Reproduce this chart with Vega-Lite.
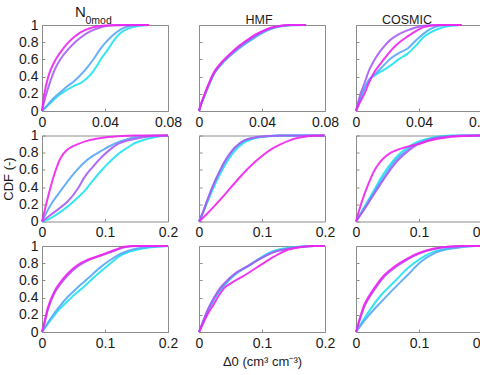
{
  "$schema": "https://vega.github.io/schema/vega-lite/v6.json",
  "padding": {"left": 2, "top": 4, "right": 0, "bottom": 0},
  "columns": 3,
  "spacing": {"row": 24.5, "column": 31},
  "bounds": "flush",
  "data": {"values": [
    {"panel":"A1","series":1,"x":0,"cdf":0},{"panel":"A1","series":1,"x":0.004,"cdf":0.07},{"panel":"A1","series":1,"x":0.008,"cdf":0.14},{"panel":"A1","series":1,"x":0.012,"cdf":0.2},{"panel":"A1","series":1,"x":0.0163,"cdf":0.25},{"panel":"A1","series":1,"x":0.02,"cdf":0.29},{"panel":"A1","series":1,"x":0.025,"cdf":0.33},{"panel":"A1","series":1,"x":0.0285,"cdf":0.38},{"panel":"A1","series":1,"x":0.032,"cdf":0.45},{"panel":"A1","series":1,"x":0.035,"cdf":0.53},{"panel":"A1","series":1,"x":0.038,"cdf":0.62},{"panel":"A1","series":1,"x":0.042,"cdf":0.72},{"panel":"A1","series":1,"x":0.046,"cdf":0.83},{"panel":"A1","series":1,"x":0.05,"cdf":0.91},{"panel":"A1","series":1,"x":0.055,"cdf":0.96},{"panel":"A1","series":1,"x":0.06,"cdf":0.985},{"panel":"A1","series":1,"x":0.065,"cdf":0.997},{"panel":"A1","series":1,"x":0.068,"cdf":1},
    {"panel":"A1","series":2,"x":0,"cdf":0},{"panel":"A1","series":2,"x":0.004,"cdf":0.08},{"panel":"A1","series":2,"x":0.008,"cdf":0.16},{"panel":"A1","series":2,"x":0.0125,"cdf":0.23},{"panel":"A1","series":2,"x":0.0163,"cdf":0.29},{"panel":"A1","series":2,"x":0.02,"cdf":0.34},{"panel":"A1","series":2,"x":0.024,"cdf":0.41},{"panel":"A1","series":2,"x":0.028,"cdf":0.49},{"panel":"A1","series":2,"x":0.033,"cdf":0.61},{"panel":"A1","series":2,"x":0.037,"cdf":0.72},{"panel":"A1","series":2,"x":0.0406,"cdf":0.8},{"panel":"A1","series":2,"x":0.045,"cdf":0.88},{"panel":"A1","series":2,"x":0.05,"cdf":0.95},{"panel":"A1","series":2,"x":0.055,"cdf":0.985},{"panel":"A1","series":2,"x":0.06,"cdf":0.997},{"panel":"A1","series":2,"x":0.068,"cdf":1},
    {"panel":"A1","series":3,"x":0,"cdf":0},{"panel":"A1","series":3,"x":0.002,"cdf":0.15},{"panel":"A1","series":3,"x":0.005,"cdf":0.33},{"panel":"A1","series":3,"x":0.0078,"cdf":0.47},{"panel":"A1","series":3,"x":0.012,"cdf":0.61},{"panel":"A1","series":3,"x":0.0163,"cdf":0.71},{"panel":"A1","series":3,"x":0.021,"cdf":0.8},{"panel":"A1","series":3,"x":0.025,"cdf":0.86},{"panel":"A1","series":3,"x":0.03,"cdf":0.92},{"panel":"A1","series":3,"x":0.036,"cdf":0.965},{"panel":"A1","series":3,"x":0.042,"cdf":0.99},{"panel":"A1","series":3,"x":0.05,"cdf":1},{"panel":"A1","series":3,"x":0.068,"cdf":1},
    {"panel":"A1","series":4,"x":0,"cdf":0},{"panel":"A1","series":4,"x":0.0015,"cdf":0.2},{"panel":"A1","series":4,"x":0.004,"cdf":0.4},{"panel":"A1","series":4,"x":0.0078,"cdf":0.57},{"panel":"A1","series":4,"x":0.012,"cdf":0.69},{"panel":"A1","series":4,"x":0.0163,"cdf":0.79},{"panel":"A1","series":4,"x":0.021,"cdf":0.87},{"panel":"A1","series":4,"x":0.025,"cdf":0.92},{"panel":"A1","series":4,"x":0.03,"cdf":0.96},{"panel":"A1","series":4,"x":0.036,"cdf":0.985},{"panel":"A1","series":4,"x":0.044,"cdf":0.998},{"panel":"A1","series":4,"x":0.068,"cdf":1},

    {"panel":"B1","series":1,"x":0,"cdf":0},{"panel":"B1","series":1,"x":0.0015,"cdf":0.085},{"panel":"B1","series":1,"x":0.0032,"cdf":0.16},{"panel":"B1","series":1,"x":0.006,"cdf":0.29},{"panel":"B1","series":1,"x":0.0095,"cdf":0.43},{"panel":"B1","series":1,"x":0.014,"cdf":0.54},{"panel":"B1","series":1,"x":0.02,"cdf":0.65},{"panel":"B1","series":1,"x":0.025,"cdf":0.73},{"panel":"B1","series":1,"x":0.031,"cdf":0.81},{"panel":"B1","series":1,"x":0.036,"cdf":0.87},{"panel":"B1","series":1,"x":0.041,"cdf":0.92},{"panel":"B1","series":1,"x":0.046,"cdf":0.96},{"panel":"B1","series":1,"x":0.052,"cdf":0.985},{"panel":"B1","series":1,"x":0.058,"cdf":0.998},{"panel":"B1","series":1,"x":0.068,"cdf":1},
    {"panel":"B1","series":2,"x":0,"cdf":0},{"panel":"B1","series":2,"x":0.0015,"cdf":0.085},{"panel":"B1","series":2,"x":0.0032,"cdf":0.165},{"panel":"B1","series":2,"x":0.006,"cdf":0.29},{"panel":"B1","series":2,"x":0.0095,"cdf":0.43},{"panel":"B1","series":2,"x":0.014,"cdf":0.54},{"panel":"B1","series":2,"x":0.02,"cdf":0.645},{"panel":"B1","series":2,"x":0.025,"cdf":0.72},{"panel":"B1","series":2,"x":0.031,"cdf":0.8},{"panel":"B1","series":2,"x":0.036,"cdf":0.86},{"panel":"B1","series":2,"x":0.041,"cdf":0.915},{"panel":"B1","series":2,"x":0.046,"cdf":0.955},{"panel":"B1","series":2,"x":0.052,"cdf":0.985},{"panel":"B1","series":2,"x":0.058,"cdf":0.998},{"panel":"B1","series":2,"x":0.068,"cdf":1},
    {"panel":"B1","series":3,"x":0,"cdf":0},{"panel":"B1","series":3,"x":0.0015,"cdf":0.09},{"panel":"B1","series":3,"x":0.0032,"cdf":0.17},{"panel":"B1","series":3,"x":0.006,"cdf":0.3},{"panel":"B1","series":3,"x":0.0095,"cdf":0.44},{"panel":"B1","series":3,"x":0.014,"cdf":0.55},{"panel":"B1","series":3,"x":0.02,"cdf":0.66},{"panel":"B1","series":3,"x":0.025,"cdf":0.74},{"panel":"B1","series":3,"x":0.031,"cdf":0.82},{"panel":"B1","series":3,"x":0.036,"cdf":0.88},{"panel":"B1","series":3,"x":0.041,"cdf":0.93},{"panel":"B1","series":3,"x":0.046,"cdf":0.965},{"panel":"B1","series":3,"x":0.052,"cdf":0.99},{"panel":"B1","series":3,"x":0.058,"cdf":1},{"panel":"B1","series":3,"x":0.068,"cdf":1},
    {"panel":"B1","series":4,"x":0,"cdf":0},{"panel":"B1","series":4,"x":0.0015,"cdf":0.095},{"panel":"B1","series":4,"x":0.0032,"cdf":0.18},{"panel":"B1","series":4,"x":0.006,"cdf":0.31},{"panel":"B1","series":4,"x":0.0095,"cdf":0.45},{"panel":"B1","series":4,"x":0.014,"cdf":0.56},{"panel":"B1","series":4,"x":0.02,"cdf":0.67},{"panel":"B1","series":4,"x":0.025,"cdf":0.75},{"panel":"B1","series":4,"x":0.031,"cdf":0.83},{"panel":"B1","series":4,"x":0.036,"cdf":0.89},{"panel":"B1","series":4,"x":0.041,"cdf":0.935},{"panel":"B1","series":4,"x":0.046,"cdf":0.97},{"panel":"B1","series":4,"x":0.052,"cdf":0.992},{"panel":"B1","series":4,"x":0.058,"cdf":1},{"panel":"B1","series":4,"x":0.068,"cdf":1},

    {"panel":"C1","series":1,"x":0,"cdf":0},{"panel":"C1","series":1,"x":0.0025,"cdf":0.13},{"panel":"C1","series":1,"x":0.0053,"cdf":0.26},{"panel":"C1","series":1,"x":0.0085,"cdf":0.36},{"panel":"C1","series":1,"x":0.0116,"cdf":0.41},{"panel":"C1","series":1,"x":0.016,"cdf":0.46},{"panel":"C1","series":1,"x":0.022,"cdf":0.53},{"panel":"C1","series":1,"x":0.027,"cdf":0.6},{"panel":"C1","series":1,"x":0.033,"cdf":0.67},{"panel":"C1","series":1,"x":0.038,"cdf":0.76},{"panel":"C1","series":1,"x":0.043,"cdf":0.86},{"panel":"C1","series":1,"x":0.048,"cdf":0.92},{"panel":"C1","series":1,"x":0.053,"cdf":0.96},{"panel":"C1","series":1,"x":0.058,"cdf":0.985},{"panel":"C1","series":1,"x":0.067,"cdf":1},
    {"panel":"C1","series":2,"x":0,"cdf":0},{"panel":"C1","series":2,"x":0.0025,"cdf":0.13},{"panel":"C1","series":2,"x":0.0053,"cdf":0.26},{"panel":"C1","series":2,"x":0.0085,"cdf":0.37},{"panel":"C1","series":2,"x":0.0116,"cdf":0.42},{"panel":"C1","series":2,"x":0.016,"cdf":0.5},{"panel":"C1","series":2,"x":0.022,"cdf":0.61},{"panel":"C1","series":2,"x":0.027,"cdf":0.67},{"panel":"C1","series":2,"x":0.033,"cdf":0.73},{"panel":"C1","series":2,"x":0.038,"cdf":0.82},{"panel":"C1","series":2,"x":0.043,"cdf":0.9},{"panel":"C1","series":2,"x":0.048,"cdf":0.96},{"panel":"C1","series":2,"x":0.053,"cdf":0.99},{"panel":"C1","series":2,"x":0.058,"cdf":0.998},{"panel":"C1","series":2,"x":0.067,"cdf":1},
    {"panel":"C1","series":3,"x":0,"cdf":0},{"panel":"C1","series":3,"x":0.0025,"cdf":0.18},{"panel":"C1","series":3,"x":0.0053,"cdf":0.32},{"panel":"C1","series":3,"x":0.0085,"cdf":0.48},{"panel":"C1","series":3,"x":0.0116,"cdf":0.59},{"panel":"C1","series":3,"x":0.016,"cdf":0.71},{"panel":"C1","series":3,"x":0.022,"cdf":0.83},{"panel":"C1","series":3,"x":0.027,"cdf":0.89},{"panel":"C1","series":3,"x":0.033,"cdf":0.94},{"panel":"C1","series":3,"x":0.038,"cdf":0.97},{"panel":"C1","series":3,"x":0.043,"cdf":0.99},{"panel":"C1","series":3,"x":0.048,"cdf":0.997},{"panel":"C1","series":3,"x":0.053,"cdf":1},{"panel":"C1","series":3,"x":0.067,"cdf":1},
    {"panel":"C1","series":4,"x":0,"cdf":0},{"panel":"C1","series":4,"x":0.0025,"cdf":0.1},{"panel":"C1","series":4,"x":0.0053,"cdf":0.2},{"panel":"C1","series":4,"x":0.0085,"cdf":0.34},{"panel":"C1","series":4,"x":0.0116,"cdf":0.45},{"panel":"C1","series":4,"x":0.016,"cdf":0.56},{"panel":"C1","series":4,"x":0.022,"cdf":0.7},{"panel":"C1","series":4,"x":0.027,"cdf":0.79},{"panel":"C1","series":4,"x":0.033,"cdf":0.87},{"panel":"C1","series":4,"x":0.038,"cdf":0.93},{"panel":"C1","series":4,"x":0.043,"cdf":0.975},{"panel":"C1","series":4,"x":0.048,"cdf":0.995},{"panel":"C1","series":4,"x":0.053,"cdf":1},{"panel":"C1","series":4,"x":0.067,"cdf":1},

    {"panel":"A2","series":1,"x":0,"cdf":0},{"panel":"A2","series":1,"x":0.014,"cdf":0.04},{"panel":"A2","series":1,"x":0.027,"cdf":0.1},{"panel":"A2","series":1,"x":0.041,"cdf":0.176},{"panel":"A2","series":1,"x":0.054,"cdf":0.26},{"panel":"A2","series":1,"x":0.067,"cdf":0.35},{"panel":"A2","series":1,"x":0.08,"cdf":0.47},{"panel":"A2","series":1,"x":0.094,"cdf":0.59},{"panel":"A2","series":1,"x":0.107,"cdf":0.69},{"panel":"A2","series":1,"x":0.12,"cdf":0.78},{"panel":"A2","series":1,"x":0.135,"cdf":0.855},{"panel":"A2","series":1,"x":0.147,"cdf":0.91},{"panel":"A2","series":1,"x":0.16,"cdf":0.945},{"panel":"A2","series":1,"x":0.173,"cdf":0.97},{"panel":"A2","series":1,"x":0.187,"cdf":0.99},{"panel":"A2","series":1,"x":0.2,"cdf":1},
    {"panel":"A2","series":2,"x":0,"cdf":0},{"panel":"A2","series":2,"x":0.014,"cdf":0.196},{"panel":"A2","series":2,"x":0.027,"cdf":0.33},{"panel":"A2","series":2,"x":0.041,"cdf":0.47},{"panel":"A2","series":2,"x":0.054,"cdf":0.585},{"panel":"A2","series":2,"x":0.067,"cdf":0.686},{"panel":"A2","series":2,"x":0.08,"cdf":0.76},{"panel":"A2","series":2,"x":0.094,"cdf":0.82},{"panel":"A2","series":2,"x":0.107,"cdf":0.875},{"panel":"A2","series":2,"x":0.12,"cdf":0.92},{"panel":"A2","series":2,"x":0.135,"cdf":0.955},{"panel":"A2","series":2,"x":0.147,"cdf":0.98},{"panel":"A2","series":2,"x":0.165,"cdf":0.995},{"panel":"A2","series":2,"x":0.18,"cdf":1},{"panel":"A2","series":2,"x":0.2,"cdf":1},
    {"panel":"A2","series":3,"x":0,"cdf":0},{"panel":"A2","series":3,"x":0.014,"cdf":0.078},{"panel":"A2","series":3,"x":0.027,"cdf":0.15},{"panel":"A2","series":3,"x":0.041,"cdf":0.235},{"panel":"A2","series":3,"x":0.0575,"cdf":0.39},{"panel":"A2","series":3,"x":0.067,"cdf":0.51},{"panel":"A2","series":3,"x":0.08,"cdf":0.63},{"panel":"A2","series":3,"x":0.094,"cdf":0.745},{"panel":"A2","series":3,"x":0.107,"cdf":0.83},{"panel":"A2","series":3,"x":0.12,"cdf":0.9},{"panel":"A2","series":3,"x":0.135,"cdf":0.94},{"panel":"A2","series":3,"x":0.147,"cdf":0.96},{"panel":"A2","series":3,"x":0.173,"cdf":0.99},{"panel":"A2","series":3,"x":0.2,"cdf":1},
    {"panel":"A2","series":4,"x":0,"cdf":0},{"panel":"A2","series":4,"x":0.004,"cdf":0.12},{"panel":"A2","series":4,"x":0.009,"cdf":0.27},{"panel":"A2","series":4,"x":0.0196,"cdf":0.55},{"panel":"A2","series":4,"x":0.03,"cdf":0.745},{"panel":"A2","series":4,"x":0.041,"cdf":0.84},{"panel":"A2","series":4,"x":0.057,"cdf":0.9},{"panel":"A2","series":4,"x":0.0725,"cdf":0.94},{"panel":"A2","series":4,"x":0.094,"cdf":0.97},{"panel":"A2","series":4,"x":0.12,"cdf":0.99},{"panel":"A2","series":4,"x":0.147,"cdf":1},{"panel":"A2","series":4,"x":0.2,"cdf":1},

    {"panel":"B2","series":1,"x":0,"cdf":0},{"panel":"B2","series":1,"x":0.006,"cdf":0.095},{"panel":"B2","series":1,"x":0.013,"cdf":0.22},{"panel":"B2","series":1,"x":0.024,"cdf":0.41},{"panel":"B2","series":1,"x":0.032,"cdf":0.53},{"panel":"B2","series":1,"x":0.04,"cdf":0.64},{"panel":"B2","series":1,"x":0.048,"cdf":0.735},{"panel":"B2","series":1,"x":0.056,"cdf":0.815},{"panel":"B2","series":1,"x":0.063,"cdf":0.87},{"panel":"B2","series":1,"x":0.071,"cdf":0.915},{"panel":"B2","series":1,"x":0.087,"cdf":0.965},{"panel":"B2","series":1,"x":0.109,"cdf":0.99},{"panel":"B2","series":1,"x":0.13,"cdf":1},{"panel":"B2","series":1,"x":0.2,"cdf":1},
    {"panel":"B2","series":2,"x":0,"cdf":0},{"panel":"B2","series":2,"x":0.006,"cdf":0.1},{"panel":"B2","series":2,"x":0.013,"cdf":0.24},{"panel":"B2","series":2,"x":0.024,"cdf":0.44},{"panel":"B2","series":2,"x":0.032,"cdf":0.56},{"panel":"B2","series":2,"x":0.04,"cdf":0.675},{"panel":"B2","series":2,"x":0.048,"cdf":0.77},{"panel":"B2","series":2,"x":0.056,"cdf":0.845},{"panel":"B2","series":2,"x":0.063,"cdf":0.895},{"panel":"B2","series":2,"x":0.071,"cdf":0.935},{"panel":"B2","series":2,"x":0.087,"cdf":0.972},{"panel":"B2","series":2,"x":0.109,"cdf":0.992},{"panel":"B2","series":2,"x":0.13,"cdf":1},{"panel":"B2","series":2,"x":0.2,"cdf":1},
    {"panel":"B2","series":3,"x":0,"cdf":0},{"panel":"B2","series":3,"x":0.006,"cdf":0.105},{"panel":"B2","series":3,"x":0.013,"cdf":0.245},{"panel":"B2","series":3,"x":0.024,"cdf":0.45},{"panel":"B2","series":3,"x":0.032,"cdf":0.575},{"panel":"B2","series":3,"x":0.04,"cdf":0.69},{"panel":"B2","series":3,"x":0.048,"cdf":0.78},{"panel":"B2","series":3,"x":0.056,"cdf":0.855},{"panel":"B2","series":3,"x":0.063,"cdf":0.9},{"panel":"B2","series":3,"x":0.071,"cdf":0.94},{"panel":"B2","series":3,"x":0.087,"cdf":0.975},{"panel":"B2","series":3,"x":0.109,"cdf":0.993},{"panel":"B2","series":3,"x":0.13,"cdf":1},{"panel":"B2","series":3,"x":0.2,"cdf":1},
    {"panel":"B2","series":4,"x":0,"cdf":0},{"panel":"B2","series":4,"x":0.012,"cdf":0.085},{"panel":"B2","series":4,"x":0.024,"cdf":0.176},{"panel":"B2","series":4,"x":0.037,"cdf":0.28},{"panel":"B2","series":4,"x":0.05,"cdf":0.39},{"panel":"B2","series":4,"x":0.063,"cdf":0.5},{"panel":"B2","series":4,"x":0.077,"cdf":0.61},{"panel":"B2","series":4,"x":0.09,"cdf":0.7},{"panel":"B2","series":4,"x":0.103,"cdf":0.78},{"panel":"B2","series":4,"x":0.117,"cdf":0.85},{"panel":"B2","series":4,"x":0.13,"cdf":0.9},{"panel":"B2","series":4,"x":0.143,"cdf":0.94},{"panel":"B2","series":4,"x":0.156,"cdf":0.97},{"panel":"B2","series":4,"x":0.17,"cdf":0.988},{"panel":"B2","series":4,"x":0.183,"cdf":0.996},{"panel":"B2","series":4,"x":0.198,"cdf":1},

    {"panel":"C2","series":1,"x":0,"cdf":0},{"panel":"C2","series":1,"x":0.0185,"cdf":0.235},{"panel":"C2","series":1,"x":0.03,"cdf":0.38},{"panel":"C2","series":1,"x":0.04,"cdf":0.51},{"panel":"C2","series":1,"x":0.05,"cdf":0.62},{"panel":"C2","series":1,"x":0.061,"cdf":0.725},{"panel":"C2","series":1,"x":0.071,"cdf":0.8},{"panel":"C2","series":1,"x":0.082,"cdf":0.86},{"panel":"C2","series":1,"x":0.092,"cdf":0.905},{"panel":"C2","series":1,"x":0.103,"cdf":0.94},{"panel":"C2","series":1,"x":0.124,"cdf":0.98},{"panel":"C2","series":1,"x":0.151,"cdf":1},{"panel":"C2","series":1,"x":0.2,"cdf":1},
    {"panel":"C2","series":2,"x":0,"cdf":0},{"panel":"C2","series":2,"x":0.0185,"cdf":0.215},{"panel":"C2","series":2,"x":0.03,"cdf":0.355},{"panel":"C2","series":2,"x":0.04,"cdf":0.47},{"panel":"C2","series":2,"x":0.05,"cdf":0.58},{"panel":"C2","series":2,"x":0.061,"cdf":0.695},{"panel":"C2","series":2,"x":0.071,"cdf":0.77},{"panel":"C2","series":2,"x":0.082,"cdf":0.835},{"panel":"C2","series":2,"x":0.092,"cdf":0.885},{"panel":"C2","series":2,"x":0.103,"cdf":0.925},{"panel":"C2","series":2,"x":0.124,"cdf":0.972},{"panel":"C2","series":2,"x":0.151,"cdf":0.995},{"panel":"C2","series":2,"x":0.17,"cdf":1},{"panel":"C2","series":2,"x":0.2,"cdf":1},
    {"panel":"C2","series":3,"x":0,"cdf":0},{"panel":"C2","series":3,"x":0.0185,"cdf":0.2},{"panel":"C2","series":3,"x":0.03,"cdf":0.335},{"panel":"C2","series":3,"x":0.04,"cdf":0.445},{"panel":"C2","series":3,"x":0.05,"cdf":0.555},{"panel":"C2","series":3,"x":0.061,"cdf":0.665},{"panel":"C2","series":3,"x":0.071,"cdf":0.745},{"panel":"C2","series":3,"x":0.082,"cdf":0.815},{"panel":"C2","series":3,"x":0.092,"cdf":0.87},{"panel":"C2","series":3,"x":0.103,"cdf":0.91},{"panel":"C2","series":3,"x":0.124,"cdf":0.965},{"panel":"C2","series":3,"x":0.151,"cdf":0.99},{"panel":"C2","series":3,"x":0.175,"cdf":1},{"panel":"C2","series":3,"x":0.2,"cdf":1},
    {"panel":"C2","series":4,"x":0,"cdf":0},{"panel":"C2","series":4,"x":0.005,"cdf":0.13},{"panel":"C2","series":4,"x":0.013,"cdf":0.31},{"panel":"C2","series":4,"x":0.021,"cdf":0.46},{"panel":"C2","series":4,"x":0.029,"cdf":0.59},{"panel":"C2","series":4,"x":0.037,"cdf":0.68},{"panel":"C2","series":4,"x":0.045,"cdf":0.745},{"panel":"C2","series":4,"x":0.053,"cdf":0.79},{"panel":"C2","series":4,"x":0.061,"cdf":0.82},{"panel":"C2","series":4,"x":0.077,"cdf":0.86},{"panel":"C2","series":4,"x":0.098,"cdf":0.9},{"panel":"C2","series":4,"x":0.119,"cdf":0.945},{"panel":"C2","series":4,"x":0.146,"cdf":0.98},{"panel":"C2","series":4,"x":0.177,"cdf":0.995},{"panel":"C2","series":4,"x":0.2,"cdf":1},

    {"panel":"A3","series":1,"x":0,"cdf":0},{"panel":"A3","series":1,"x":0.014,"cdf":0.14},{"panel":"A3","series":1,"x":0.027,"cdf":0.26},{"panel":"A3","series":1,"x":0.041,"cdf":0.36},{"panel":"A3","series":1,"x":0.054,"cdf":0.45},{"panel":"A3","series":1,"x":0.067,"cdf":0.53},{"panel":"A3","series":1,"x":0.08,"cdf":0.62},{"panel":"A3","series":1,"x":0.094,"cdf":0.71},{"panel":"A3","series":1,"x":0.109,"cdf":0.8},{"panel":"A3","series":1,"x":0.125,"cdf":0.89},{"panel":"A3","series":1,"x":0.147,"cdf":0.95},{"panel":"A3","series":1,"x":0.173,"cdf":0.985},{"panel":"A3","series":1,"x":0.2,"cdf":1},
    {"panel":"A3","series":2,"x":0,"cdf":0},{"panel":"A3","series":2,"x":0.014,"cdf":0.16},{"panel":"A3","series":2,"x":0.027,"cdf":0.29},{"panel":"A3","series":2,"x":0.041,"cdf":0.41},{"panel":"A3","series":2,"x":0.054,"cdf":0.5},{"panel":"A3","series":2,"x":0.067,"cdf":0.585},{"panel":"A3","series":2,"x":0.08,"cdf":0.67},{"panel":"A3","series":2,"x":0.094,"cdf":0.76},{"panel":"A3","series":2,"x":0.109,"cdf":0.84},{"panel":"A3","series":2,"x":0.125,"cdf":0.91},{"panel":"A3","series":2,"x":0.147,"cdf":0.965},{"panel":"A3","series":2,"x":0.173,"cdf":0.99},{"panel":"A3","series":2,"x":0.2,"cdf":1},
    {"panel":"A3","series":3,"x":0,"cdf":0},{"panel":"A3","series":3,"x":0.004,"cdf":0.1},{"panel":"A3","series":3,"x":0.009,"cdf":0.25},{"panel":"A3","series":3,"x":0.0196,"cdf":0.45},{"panel":"A3","series":3,"x":0.03,"cdf":0.565},{"panel":"A3","series":3,"x":0.041,"cdf":0.66},{"panel":"A3","series":3,"x":0.057,"cdf":0.765},{"panel":"A3","series":3,"x":0.0725,"cdf":0.83},{"panel":"A3","series":3,"x":0.094,"cdf":0.89},{"panel":"A3","series":3,"x":0.115,"cdf":0.945},{"panel":"A3","series":3,"x":0.131,"cdf":0.985},{"panel":"A3","series":3,"x":0.15,"cdf":1},{"panel":"A3","series":3,"x":0.2,"cdf":1},
    {"panel":"A3","series":4,"x":0,"cdf":0},{"panel":"A3","series":4,"x":0.004,"cdf":0.12},{"panel":"A3","series":4,"x":0.009,"cdf":0.275},{"panel":"A3","series":4,"x":0.0196,"cdf":0.47},{"panel":"A3","series":4,"x":0.03,"cdf":0.585},{"panel":"A3","series":4,"x":0.041,"cdf":0.68},{"panel":"A3","series":4,"x":0.057,"cdf":0.78},{"panel":"A3","series":4,"x":0.0725,"cdf":0.84},{"panel":"A3","series":4,"x":0.094,"cdf":0.895},{"panel":"A3","series":4,"x":0.115,"cdf":0.953},{"panel":"A3","series":4,"x":0.131,"cdf":0.99},{"panel":"A3","series":4,"x":0.147,"cdf":1},{"panel":"A3","series":4,"x":0.2,"cdf":1},

    {"panel":"B3","series":1,"x":0,"cdf":0},{"panel":"B3","series":1,"x":0.006,"cdf":0.105},{"panel":"B3","series":1,"x":0.013,"cdf":0.225},{"panel":"B3","series":1,"x":0.024,"cdf":0.38},{"panel":"B3","series":1,"x":0.032,"cdf":0.47},{"panel":"B3","series":1,"x":0.04,"cdf":0.54},{"panel":"B3","series":1,"x":0.056,"cdf":0.66},{"panel":"B3","series":1,"x":0.077,"cdf":0.765},{"panel":"B3","series":1,"x":0.098,"cdf":0.865},{"panel":"B3","series":1,"x":0.119,"cdf":0.945},{"panel":"B3","series":1,"x":0.14,"cdf":0.978},{"panel":"B3","series":1,"x":0.161,"cdf":0.993},{"panel":"B3","series":1,"x":0.182,"cdf":1},{"panel":"B3","series":1,"x":0.2,"cdf":1},
    {"panel":"B3","series":2,"x":0,"cdf":0},{"panel":"B3","series":2,"x":0.006,"cdf":0.11},{"panel":"B3","series":2,"x":0.013,"cdf":0.235},{"panel":"B3","series":2,"x":0.024,"cdf":0.39},{"panel":"B3","series":2,"x":0.032,"cdf":0.48},{"panel":"B3","series":2,"x":0.04,"cdf":0.55},{"panel":"B3","series":2,"x":0.056,"cdf":0.665},{"panel":"B3","series":2,"x":0.077,"cdf":0.76},{"panel":"B3","series":2,"x":0.098,"cdf":0.855},{"panel":"B3","series":2,"x":0.119,"cdf":0.932},{"panel":"B3","series":2,"x":0.14,"cdf":0.968},{"panel":"B3","series":2,"x":0.161,"cdf":0.99},{"panel":"B3","series":2,"x":0.182,"cdf":1},{"panel":"B3","series":2,"x":0.2,"cdf":1},
    {"panel":"B3","series":3,"x":0,"cdf":0},{"panel":"B3","series":3,"x":0.006,"cdf":0.115},{"panel":"B3","series":3,"x":0.013,"cdf":0.245},{"panel":"B3","series":3,"x":0.024,"cdf":0.4},{"panel":"B3","series":3,"x":0.032,"cdf":0.495},{"panel":"B3","series":3,"x":0.04,"cdf":0.565},{"panel":"B3","series":3,"x":0.056,"cdf":0.675},{"panel":"B3","series":3,"x":0.077,"cdf":0.765},{"panel":"B3","series":3,"x":0.098,"cdf":0.855},{"panel":"B3","series":3,"x":0.119,"cdf":0.93},{"panel":"B3","series":3,"x":0.14,"cdf":0.966},{"panel":"B3","series":3,"x":0.161,"cdf":0.988},{"panel":"B3","series":3,"x":0.182,"cdf":1},{"panel":"B3","series":3,"x":0.2,"cdf":1},
    {"panel":"B3","series":4,"x":0,"cdf":0},{"panel":"B3","series":4,"x":0.006,"cdf":0.09},{"panel":"B3","series":4,"x":0.013,"cdf":0.198},{"panel":"B3","series":4,"x":0.024,"cdf":0.33},{"panel":"B3","series":4,"x":0.032,"cdf":0.43},{"panel":"B3","series":4,"x":0.04,"cdf":0.51},{"panel":"B3","series":4,"x":0.0505,"cdf":0.566},{"panel":"B3","series":4,"x":0.063,"cdf":0.62},{"panel":"B3","series":4,"x":0.077,"cdf":0.68},{"panel":"B3","series":4,"x":0.098,"cdf":0.78},{"panel":"B3","series":4,"x":0.119,"cdf":0.876},{"panel":"B3","series":4,"x":0.14,"cdf":0.953},{"panel":"B3","series":4,"x":0.161,"cdf":0.985},{"panel":"B3","series":4,"x":0.182,"cdf":1},{"panel":"B3","series":4,"x":0.2,"cdf":1},

    {"panel":"C3","series":1,"x":0,"cdf":0},{"panel":"C3","series":1,"x":0.0185,"cdf":0.217},{"panel":"C3","series":1,"x":0.04,"cdf":0.43},{"panel":"C3","series":1,"x":0.061,"cdf":0.585},{"panel":"C3","series":1,"x":0.082,"cdf":0.74},{"panel":"C3","series":1,"x":0.103,"cdf":0.857},{"panel":"C3","series":1,"x":0.124,"cdf":0.934},{"panel":"C3","series":1,"x":0.146,"cdf":0.97},{"panel":"C3","series":1,"x":0.167,"cdf":0.99},{"panel":"C3","series":1,"x":0.188,"cdf":1},{"panel":"C3","series":1,"x":0.2,"cdf":1},
    {"panel":"C3","series":2,"x":0,"cdf":0},{"panel":"C3","series":2,"x":0.0185,"cdf":0.178},{"panel":"C3","series":2,"x":0.04,"cdf":0.35},{"panel":"C3","series":2,"x":0.061,"cdf":0.51},{"panel":"C3","series":2,"x":0.082,"cdf":0.663},{"panel":"C3","series":2,"x":0.103,"cdf":0.817},{"panel":"C3","series":2,"x":0.124,"cdf":0.915},{"panel":"C3","series":2,"x":0.146,"cdf":0.965},{"panel":"C3","series":2,"x":0.167,"cdf":0.985},{"panel":"C3","series":2,"x":0.188,"cdf":1},{"panel":"C3","series":2,"x":0.2,"cdf":1},
    {"panel":"C3","series":3,"x":0,"cdf":0},{"panel":"C3","series":3,"x":0.005,"cdf":0.12},{"panel":"C3","series":3,"x":0.013,"cdf":0.29},{"panel":"C3","series":3,"x":0.021,"cdf":0.4},{"panel":"C3","series":3,"x":0.029,"cdf":0.49},{"panel":"C3","series":3,"x":0.045,"cdf":0.645},{"panel":"C3","series":3,"x":0.061,"cdf":0.745},{"panel":"C3","series":3,"x":0.082,"cdf":0.845},{"panel":"C3","series":3,"x":0.103,"cdf":0.92},{"panel":"C3","series":3,"x":0.124,"cdf":0.965},{"panel":"C3","series":3,"x":0.146,"cdf":0.99},{"panel":"C3","series":3,"x":0.17,"cdf":1},{"panel":"C3","series":3,"x":0.2,"cdf":1},
    {"panel":"C3","series":4,"x":0,"cdf":0},{"panel":"C3","series":4,"x":0.005,"cdf":0.13},{"panel":"C3","series":4,"x":0.013,"cdf":0.314},{"panel":"C3","series":4,"x":0.021,"cdf":0.42},{"panel":"C3","series":4,"x":0.029,"cdf":0.51},{"panel":"C3","series":4,"x":0.045,"cdf":0.663},{"panel":"C3","series":4,"x":0.061,"cdf":0.76},{"panel":"C3","series":4,"x":0.082,"cdf":0.857},{"panel":"C3","series":4,"x":0.103,"cdf":0.927},{"panel":"C3","series":4,"x":0.124,"cdf":0.97},{"panel":"C3","series":4,"x":0.146,"cdf":0.99},{"panel":"C3","series":4,"x":0.167,"cdf":1},{"panel":"C3","series":4,"x":0.2,"cdf":1}
  ]},
  "config": {
    "font": "Liberation Sans",
    "view": {"stroke": "#8c8c8c", "strokeWidth": 1},
    "axis": {
      "domain": false, "grid": false,
      "tickColor": "#8c8c8c", "tickSize": -3,
      "labelFontSize": 14, "labelColor": "#1a1a1a", "labelPadding": 7,
      "labelFlush": false, "labelOverlap": false,
      "titleFontSize": 13, "titleFontWeight": "normal", "titleColor": "#1a1a1a"
    },
    "title": {"fontSize": 12.5, "fontWeight": "normal", "color": "#1a1a1a", "offset": -5, "frame": "group", "anchor": "middle"},
    "line": {"strokeWidth": 2, "interpolate": "monotone", "opacity": 0.9}
  },
  "concat": [
    {
      "width": 126, "height": 86,
      "title": {"text": "N", "subtitle": "\u200b\u2002\u20020mod", "fontSize": 15, "subtitleFont": "Liberation Sans", "subtitleFontSize": 10.5, "subtitleColor": "#1a1a1a", "subtitlePadding": -4, "align": "left", "dx": -30, "offset": -8},
      "transform": [{"filter": "datum.panel === 'A1'"}],
      "mark": "line",
      "encoding": {
        "x": {"field": "x", "type": "quantitative", "scale": {"domain": [0, 0.08], "nice": false}, "axis": {"values": [0, 0.04, 0.08], "format": "~g", "title": null}},
        "y": {"field": "cdf", "type": "quantitative", "scale": {"domain": [0, 1], "nice": false}, "axis": {"values": [0, 0.2, 0.4, 0.6, 0.8, 1], "format": "~g", "title": null}},
        "color": {"field": "series", "type": "nominal", "scale": {"domain": [1, 2, 3, 4], "range": ["#1fe3f0", "#58a6f8", "#a65cf5", "#ef22ef"]}, "legend": null}
      }
    },
    {
      "width": 126, "height": 86,
      "title": {"text": "HMF", "dx": -3},
      "transform": [{"filter": "datum.panel === 'B1'"}],
      "mark": "line",
      "encoding": {
        "x": {"field": "x", "type": "quantitative", "scale": {"domain": [0, 0.08], "nice": false}, "axis": {"values": [0, 0.04, 0.08], "format": "~g", "title": null}},
        "y": {"field": "cdf", "type": "quantitative", "scale": {"domain": [0, 1], "nice": false}, "axis": {"values": [0, 0.2, 0.4, 0.6, 0.8, 1], "labels": false, "title": null}},
        "color": {"field": "series", "type": "nominal", "scale": {"domain": [1, 2, 3, 4], "range": ["#1fe3f0", "#58a6f8", "#a65cf5", "#ef22ef"]}, "legend": null}
      }
    },
    {
      "width": 126, "height": 86,
      "title": {"text": "COSMIC", "dx": -12},
      "transform": [{"filter": "datum.panel === 'C1'"}],
      "mark": "line",
      "encoding": {
        "x": {"field": "x", "type": "quantitative", "scale": {"domain": [0, 0.08], "nice": false}, "axis": {"values": [0, 0.04, 0.08], "format": "~g", "title": null}},
        "y": {"field": "cdf", "type": "quantitative", "scale": {"domain": [0, 1], "nice": false}, "axis": {"values": [0, 0.2, 0.4, 0.6, 0.8, 1], "labels": false, "title": null}},
        "color": {"field": "series", "type": "nominal", "scale": {"domain": [1, 2, 3, 4], "range": ["#1fe3f0", "#58a6f8", "#a65cf5", "#ef22ef"]}, "legend": null}
      }
    },
    {
      "width": 126, "height": 86,
      "transform": [{"filter": "datum.panel === 'A2'"}],
      "mark": "line",
      "encoding": {
        "x": {"field": "x", "type": "quantitative", "scale": {"domain": [0, 0.2], "nice": false}, "axis": {"values": [0, 0.1, 0.2], "format": "~g", "title": null}},
        "y": {"field": "cdf", "type": "quantitative", "scale": {"domain": [0, 1], "nice": false}, "axis": {"values": [0, 0.2, 0.4, 0.6, 0.8, 1], "format": "~g", "title": "CDF (-)", "titlePadding": 3}},
        "color": {"field": "series", "type": "nominal", "scale": {"domain": [1, 2, 3, 4], "range": ["#1fe3f0", "#58a6f8", "#a65cf5", "#ef22ef"]}, "legend": null}
      }
    },
    {
      "width": 126, "height": 86,
      "transform": [{"filter": "datum.panel === 'B2'"}],
      "mark": "line",
      "encoding": {
        "x": {"field": "x", "type": "quantitative", "scale": {"domain": [0, 0.2], "nice": false}, "axis": {"values": [0, 0.1, 0.2], "format": "~g", "title": null}},
        "y": {"field": "cdf", "type": "quantitative", "scale": {"domain": [0, 1], "nice": false}, "axis": {"values": [0, 0.2, 0.4, 0.6, 0.8, 1], "labels": false, "title": null}},
        "color": {"field": "series", "type": "nominal", "scale": {"domain": [1, 2, 3, 4], "range": ["#1fe3f0", "#58a6f8", "#a65cf5", "#ef22ef"]}, "legend": null}
      }
    },
    {
      "width": 126, "height": 86,
      "transform": [{"filter": "datum.panel === 'C2'"}],
      "mark": "line",
      "encoding": {
        "x": {"field": "x", "type": "quantitative", "scale": {"domain": [0, 0.2], "nice": false}, "axis": {"values": [0, 0.1, 0.2], "format": "~g", "title": null}},
        "y": {"field": "cdf", "type": "quantitative", "scale": {"domain": [0, 1], "nice": false}, "axis": {"values": [0, 0.2, 0.4, 0.6, 0.8, 1], "labels": false, "title": null}},
        "color": {"field": "series", "type": "nominal", "scale": {"domain": [1, 2, 3, 4], "range": ["#1fe3f0", "#58a6f8", "#a65cf5", "#ef22ef"]}, "legend": null}
      }
    },
    {
      "width": 126, "height": 86,
      "transform": [{"filter": "datum.panel === 'A3'"}],
      "mark": "line",
      "encoding": {
        "x": {"field": "x", "type": "quantitative", "scale": {"domain": [0, 0.2], "nice": false}, "axis": {"values": [0, 0.1, 0.2], "format": "~g", "title": null}},
        "y": {"field": "cdf", "type": "quantitative", "scale": {"domain": [0, 1], "nice": false}, "axis": {"values": [0, 0.2, 0.4, 0.6, 0.8, 1], "format": "~g", "title": null}},
        "color": {"field": "series", "type": "nominal", "scale": {"domain": [1, 2, 3, 4], "range": ["#1fe3f0", "#58a6f8", "#a65cf5", "#ef22ef"]}, "legend": null}
      }
    },
    {
      "width": 126, "height": 86,
      "transform": [{"filter": "datum.panel === 'B3'"}],
      "mark": "line",
      "encoding": {
        "x": {"field": "x", "type": "quantitative", "scale": {"domain": [0, 0.2], "nice": false}, "axis": {"values": [0, 0.1, 0.2], "format": "~g", "title": "Δ0 (cm³ cm⁻³)", "titlePadding": 5}},
        "y": {"field": "cdf", "type": "quantitative", "scale": {"domain": [0, 1], "nice": false}, "axis": {"values": [0, 0.2, 0.4, 0.6, 0.8, 1], "labels": false, "title": null}},
        "color": {"field": "series", "type": "nominal", "scale": {"domain": [1, 2, 3, 4], "range": ["#1fe3f0", "#58a6f8", "#a65cf5", "#ef22ef"]}, "legend": null}
      }
    },
    {
      "width": 126, "height": 86,
      "transform": [{"filter": "datum.panel === 'C3'"}],
      "mark": "line",
      "encoding": {
        "x": {"field": "x", "type": "quantitative", "scale": {"domain": [0, 0.2], "nice": false}, "axis": {"values": [0, 0.1, 0.2], "format": "~g", "title": null}},
        "y": {"field": "cdf", "type": "quantitative", "scale": {"domain": [0, 1], "nice": false}, "axis": {"values": [0, 0.2, 0.4, 0.6, 0.8, 1], "labels": false, "title": null}},
        "color": {"field": "series", "type": "nominal", "scale": {"domain": [1, 2, 3, 4], "range": ["#1fe3f0", "#58a6f8", "#a65cf5", "#ef22ef"]}, "legend": null}
      }
    }
  ]
}
